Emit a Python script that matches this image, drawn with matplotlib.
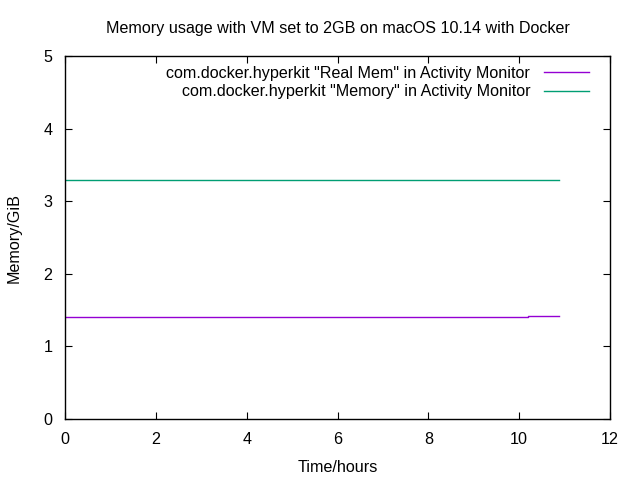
import matplotlib.pyplot as plt

plt.rcParams['font.family'] = ['Liberation Sans', 'DejaVu Sans']

# Time (hours) and memory (GiB)
real_mem_t = [0, 10.2, 10.2, 10.87]
real_mem_v = [1.405, 1.405, 1.42, 1.42]
memory_t = [0, 10.87]
memory_v = [3.29, 3.29]

fig = plt.figure(figsize=(6.4, 4.8), dpi=100)
ax = fig.add_axes([0.1016, 0.127, 0.8516, 0.756])

ax.plot(real_mem_t, real_mem_v, color="#9400d3", lw=1,
        label='com.docker.hyperkit "Real Mem" in Activity Monitor')
ax.plot(memory_t, memory_v, color="#009e73", lw=1,
        label='com.docker.hyperkit "Memory" in Activity Monitor')

ax.set_xlim(0, 12)
ax.set_ylim(0, 5)
ax.set_xticks(range(0, 13, 2))
ax.set_yticks(range(0, 6))
ax.tick_params(direction="in", top=True, right=True, labelsize=11.6, length=5, pad=9)
for s in ax.spines.values():
    s.set_linewidth(1)

ax.set_xlabel("Time/hours", fontsize=11.6, labelpad=10)
ax.set_ylabel("Memory/GiB", fontsize=11.6, labelpad=16)
ax.set_title("Memory usage with VM set to 2GB on macOS 10.14 with Docker",
             fontsize=11.6, pad=17)

leg = ax.legend(loc="upper right", bbox_to_anchor=(0.98, 1.0), frameon=False,
                markerfirst=False, fontsize=11.6, handlelength=2.8,
                borderaxespad=0.2, labelspacing=0.22, handletextpad=0.87)
for t in leg.get_texts():
    t.set_ha("right")

fig.savefig("out.png", dpi=100)
